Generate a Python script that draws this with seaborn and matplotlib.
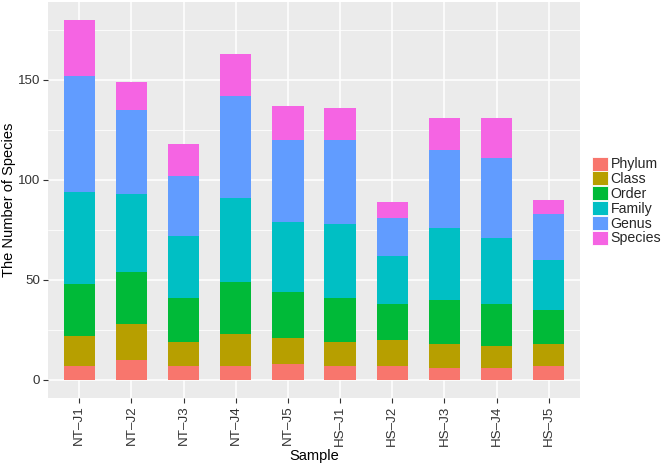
import numpy as np
import pandas as pd
import matplotlib
matplotlib.use("Agg")
import matplotlib.pyplot as plt
import seaborn as sns
from matplotlib.patches import Patch
from matplotlib.ticker import MultipleLocator

samples = ["NT–J1", "NT–J2", "NT–J3", "NT–J4", "NT–J5",
           "HS–J1", "HS–J2", "HS–J3", "HS–J4", "HS–J5"]
levels = ["Phylum", "Class", "Order", "Family", "Genus", "Species"]

phylum  = [7, 10, 7, 7, 8, 7, 7, 6, 6, 7]
class_  = [15, 18, 12, 16, 13, 12, 13, 12, 11, 11]
order   = [26, 26, 22, 26, 23, 22, 18, 22, 21, 17]
family  = [46, 39, 31, 42, 35, 37, 24, 36, 33, 25]
genus   = [58, 42, 30, 51, 41, 42, 19, 39, 40, 23]
species = [28, 14, 16, 21, 17, 16, 8, 16, 20, 7]

colors = ["#F8766D", "#B79F00", "#00BA38", "#00BFC4", "#619CFF", "#F564E3"]

sns.set_theme(style="darkgrid")
plt.rcParams["font.family"] = ["Liberation Sans", "DejaVu Sans"]

df = pd.DataFrame({"Sample": samples, "Phylum": phylum, "Class": class_,
                   "Order": order, "Family": family, "Genus": genus,
                   "Species": species})
cum = df[levels].cumsum(axis=1)

fig = plt.figure(figsize=(6.62, 4.66), dpi=100)
ax = fig.add_axes([48/662, 1-398/466, (580-48)/662, (398-2)/466])
ax.set_facecolor("#EBEBEB")
ax.set_axisbelow(True)

for lev, col in reversed(list(zip(levels, colors))):
    sns.barplot(x=df["Sample"], y=cum[lev], color=col, saturation=1,
                width=0.6, errorbar=None, ax=ax, linewidth=0,
                order=samples)

ax.set_xlim(-0.6, len(samples) - 1 + 0.6)
ax.set_ylim(-9, 189)
ax.yaxis.set_major_locator(MultipleLocator(50))
ax.yaxis.set_minor_locator(MultipleLocator(25))
ax.grid(which="major", color="white", linewidth=1.1)
ax.grid(which="minor", axis="y", color="white", linewidth=0.55)
for s in ax.spines.values():
    s.set_visible(False)

ax.tick_params(axis="both", which="major", length=3.5, width=0.8,
               color="#333333", labelcolor="#333333", labelsize=9.6, pad=2,
               bottom=True, left=True)
ax.tick_params(axis="both", which="minor", length=0)
plt.setp(ax.get_xticklabels(), rotation=90, ha="center", va="top")

ax.set_xlabel("Sample", fontsize=10.5, color="black")
ax.set_ylabel("The Number of Species", fontsize=10.5, color="black")
ax.xaxis.set_label_coords(0.5, (398 - 449) / 396)
ax.yaxis.set_label_coords((16 - 48) / 532, 0.5)

handles = [Patch(facecolor=c, edgecolor="white", linewidth=0.6, label=l)
           for l, c in zip(levels, colors)]
fig.legend(handles=handles, loc="center left", bbox_to_anchor=(592/662, 1-201/466),
           frameon=False, fontsize=10.2, handlelength=1.15, handleheight=1.15,
           labelspacing=0.0, handletextpad=0.15, borderpad=0, borderaxespad=0)

fig.savefig("out.png", dpi=100)
